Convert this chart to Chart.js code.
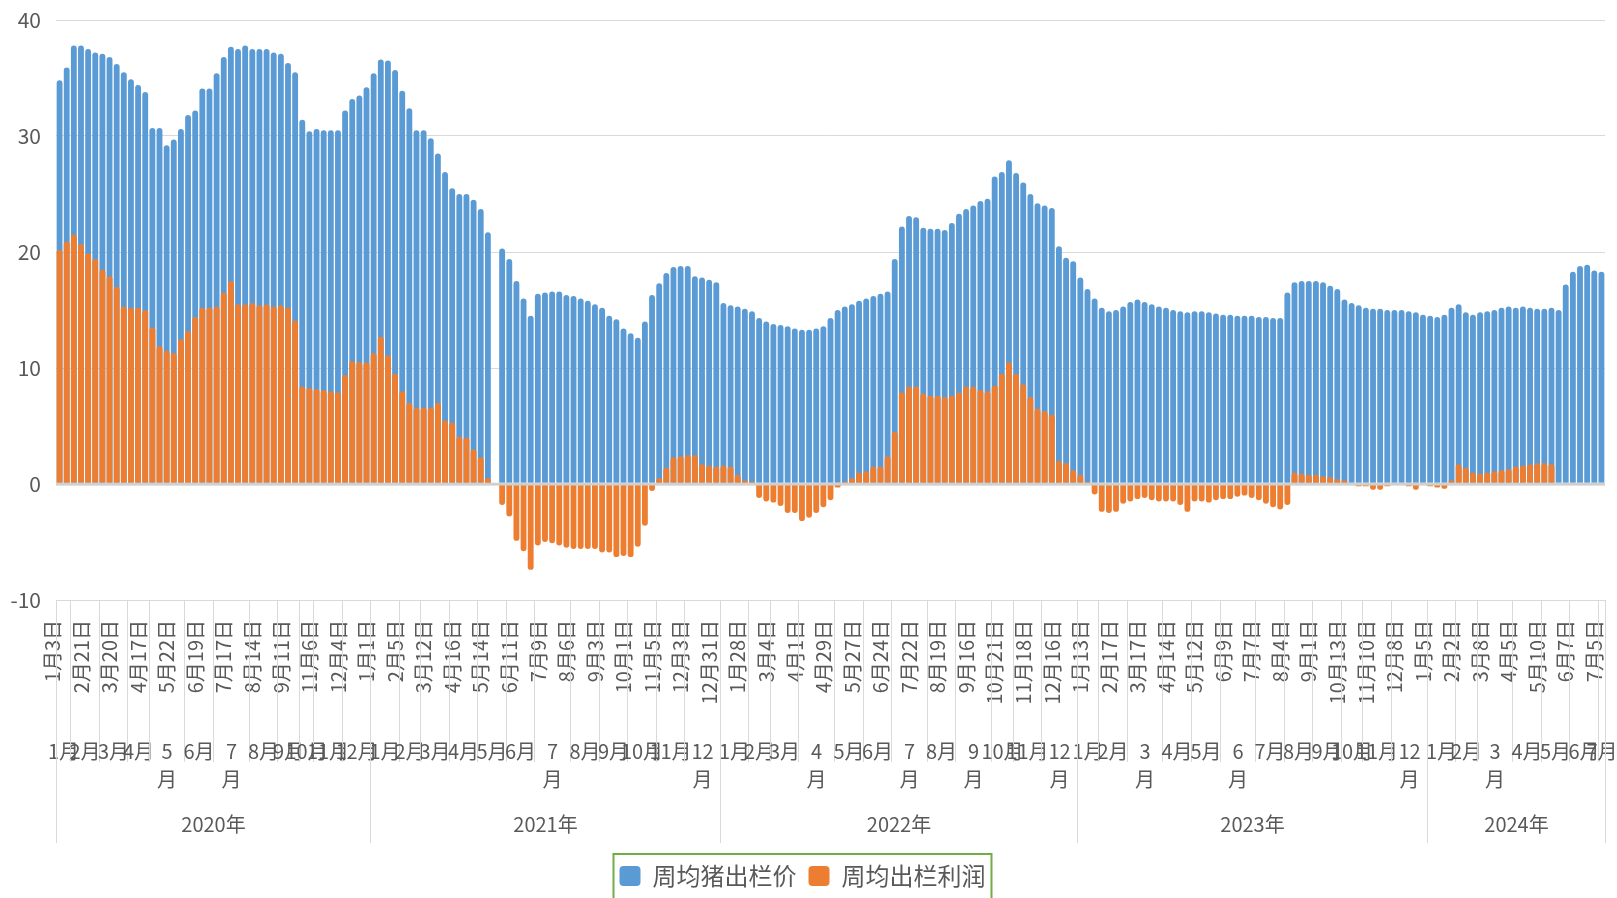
<!DOCTYPE html>
<html>
<head>
<meta charset="utf-8">
<script src="https://cdn.jsdelivr.net/npm/chart.js@4"></script>
<style>
  html, body { margin: 0; background: #fff; }
  #wrap { width: 1617px; height: 898px; }
</style>
</head>
<body>
<div id="wrap"><canvas id="c"></canvas></div>
<script>
// 每周日期（按年）
var weeks2020 = ['1月3日','1月10日','2月7日','2月14日','2月21日','2月28日','3月6日','3月13日','3月20日','3月27日',
  '4月3日','4月10日','4月17日','5月1日','5月8日','5月15日','5月22日','5月29日','6月5日','6月12日','6月19日','6月26日',
  '7月3日','7月10日','7月17日','7月24日','7月31日','8月7日','8月14日','8月21日','8月28日','9月4日','9月11日','9月18日',
  '10月23日','10月30日','11月6日','11月13日','11月20日','11月27日','12月4日','12月11日','12月18日','12月25日'];
var weeks2021 = ['1月1日','1月8日','1月15日','1月22日','2月5日','2月19日','2月26日','3月5日','3月12日','3月19日','3月26日',
  '4月9日','4月16日','4月23日','4月30日','5月7日','5月14日','5月21日','5月28日','6月4日','6月11日','6月18日','6月25日',
  '7月2日','7月9日','7月16日','7月23日','7月30日','8月6日','8月13日','8月20日','8月27日','9月3日','9月10日','9月17日','9月24日',
  '10月1日','10月15日','10月22日','10月29日','11月5日','11月12日','11月19日','11月26日','12月3日','12月10日','12月17日','12月24日','12月31日'];
var weeks2022 = ['1月7日','1月14日','1月21日','1月28日','2月11日','2月18日','2月25日','3月4日','3月11日','3月18日','3月25日',
  '4月1日','4月8日','4月15日','4月22日','4月29日','5月6日','5月13日','5月20日','5月27日','6月3日','6月10日','6月17日','6月24日',
  '7月1日','7月8日','7月15日','7月22日','7月29日','8月5日','8月12日','8月19日','8月26日','9月2日','9月9日','9月16日','9月23日','9月30日',
  '10月14日','10月21日','10月28日','11月4日','11月11日','11月18日','11月25日','12月2日','12月9日','12月16日','12月23日','12月30日'];
var weeks2023 = ['1月6日','1月13日','1月20日','2月3日','2月10日','2月17日','2月24日','3月3日','3月10日','3月17日','3月24日','3月31日',
  '4月7日','4月14日','4月21日','4月28日','5月5日','5月12日','5月19日','5月26日','6月2日','6月9日','6月16日','6月23日','6月30日',
  '7月7日','7月14日','7月21日','7月28日','8月4日','8月11日','8月18日','8月25日','9月1日','9月8日','9月15日','9月22日',
  '10月13日','10月20日','10月27日','11月3日','11月10日','11月17日','11月24日','12月1日','12月8日','12月15日','12月22日','12月29日'];
var weeks2024 = ['1月5日','1月12日','1月19日','1月26日','2月2日','2月16日','2月23日','3月1日','3月8日','3月15日','3月22日','3月29日',
  '4月5日','4月12日','4月19日','4月26日','5月10日','5月17日','5月24日','5月31日','6月7日','6月14日','6月21日','6月28日','7月5日'];
var yearNames = ['2020年', '2021年', '2022年', '2023年', '2024年'];

// 周均猪出栏价
var price2020 = [34.8, 35.9, 37.8, 37.8, 37.5, 37.2, 37.1, 36.8, 36.2, 35.5, 34.9, 34.4, 33.8, 30.7, 30.7, 29.2, 29.7, 30.6, 31.8, 32.2,
  34.1, 34.1, 35.4, 36.8, 37.7, 37.5, 37.8, 37.5, 37.5, 37.5, 37.2, 37.1, 36.3, 35.5, 31.4, 30.4, 30.6, 30.5, 30.5, 30.5, 32.2, 33.2, 33.5, 34.2];
var price2021 = [35.4, 36.6, 36.5, 35.7, 33.9, 32.4, 30.5, 30.5, 29.8, 28.5, 26.9, 25.5, 25.0, 25.0, 24.5, 23.7, 21.7, null,
  20.3, 19.4, 17.5, 16.0, 14.5, 16.4, 16.5, 16.6, 16.6, 16.3, 16.2, 16.0, 15.8, 15.5, 15.2, 14.5, 14.2, 13.4, 13.0, 12.6,
  14.0, 16.3, 17.3, 18.2, 18.7, 18.8, 18.8, 17.9, 17.8, 17.6, 17.4];
var price2022 = [15.6, 15.4, 15.3, 15.1, 14.9, 14.3, 14.0, 13.8, 13.7, 13.6, 13.4, 13.3, 13.3, 13.4, 13.6, 14.3, 15.0, 15.3, 15.5, 15.8,
  16.0, 16.2, 16.4, 16.6, 19.4, 22.2, 23.1, 23.0, 22.1, 22.0, 22.0, 21.9, 22.5, 23.3, 23.7, 24.0, 24.4, 24.6, 26.5, 26.9,
  27.9, 26.8, 26.0, 25.0, 24.2, 24.0, 23.8, 20.5, 19.5, 19.2];
var price2023 = [17.8, 16.8, 16.0, 15.2, 14.9, 15.0, 15.3, 15.7, 15.9, 15.7, 15.5, 15.3, 15.2, 15.0, 14.9, 14.8, 14.9, 14.9, 14.8, 14.7,
  14.6, 14.6, 14.5, 14.5, 14.5, 14.4, 14.4, 14.3, 14.3, 16.5, 17.4, 17.5, 17.5, 17.5, 17.4, 17.1, 16.8, 15.9, 15.6, 15.4,
  15.2, 15.1, 15.1, 15.0, 15.0, 15.0, 14.9, 14.8, 14.6];
var price2024 = [14.5, 14.4, 14.6, 15.2, 15.5, 14.8, 14.6, 14.8, 14.9, 15.0, 15.2, 15.3, 15.2, 15.3, 15.2, 15.1, 15.1, 15.2, 15.0,
  17.2, 18.3, 18.8, 18.9, 18.4, 18.3];

// 周均出栏利润
var profit2020 = [20.2, 20.9, 21.5, 20.7, 19.9, 19.4, 18.5, 17.9, 17.0, 15.3, 15.2, 15.2, 15.0, 13.5, 11.9, 11.5, 11.3, 12.5, 13.2, 14.4,
  15.2, 15.2, 15.3, 16.5, 17.5, 15.5, 15.5, 15.6, 15.4, 15.5, 15.3, 15.4, 15.2, 14.1, 8.4, 8.3, 8.2, 8.1, 8.0, 7.9, 9.4, 10.6, 10.5, 10.5];
var profit2021 = [11.3, 12.7, 11.1, 9.5, 8.0, 7.0, 6.6, 6.6, 6.6, 7.0, 5.5, 5.3, 4.1, 4.0, 3.0, 2.3, 0.5, null,
  -1.8, -2.8, -4.9, -5.8, -7.4, -5.3, -5.0, -5.1, -5.3, -5.5, -5.6, -5.6, -5.6, -5.6, -5.9, -5.9, -6.3, -6.2, -6.3, -5.4,
  -3.6, -0.6, 0.5, 1.4, 2.3, 2.4, 2.5, 2.5, 1.7, 1.6, 1.5];
var profit2022 = [1.6, 1.5, 0.8, 0.3, 0.2, -1.2, -1.5, -1.6, -1.9, -2.5, -2.5, -3.2, -2.9, -2.5, -2.0, -1.4, -0.3, 0.2, 0.5, 1.0,
  1.1, 1.5, 1.5, 2.4, 4.5, 7.9, 8.4, 8.4, 7.8, 7.6, 7.6, 7.5, 7.6, 7.9, 8.4, 8.4, 8.1, 8.0, 8.5, 9.5,
  10.5, 9.5, 8.6, 7.5, 6.5, 6.3, 6.0, 2.0, 1.8, 1.2];
var profit2023 = [0.8, 0.2, -0.9, -2.4, -2.5, -2.4, -1.7, -1.5, -1.3, -1.2, -1.4, -1.5, -1.5, -1.5, -1.8, -2.4, -1.5, -1.5, -1.6, -1.4,
  -1.3, -1.3, -1.1, -1.0, -1.2, -1.4, -1.7, -2.0, -2.2, -1.8, 1.0, 0.9, 0.8, 0.8, 0.7, 0.6, 0.4, 0.3, 0.1, -0.2,
  -0.2, -0.5, -0.5, -0.2, -0.1, -0.1, -0.2, -0.5, -0.1];
var profit2024 = [-0.2, -0.3, -0.4, 0.3, 1.7, 1.4, 1.0, 0.9, 1.0, 1.1, 1.2, 1.3, 1.5, 1.6, 1.7, 1.8, 1.8, 1.7,
  null, null, null, null, null, null, null];

var yTicks = [-10, 0, 10, 20, 30, 40];

var FONT = '"Noto Sans CJK SC", "Noto Sans", sans-serif';
var TEXT = '#595959';
var GRID = '#d9d9d9';

var weekGroups = [weeks2020, weeks2021, weeks2022, weeks2023, weeks2024];
var weeks = [].concat.apply([], weekGroups);
var yearOfWeek = [];
weekGroups.forEach(function (g, y) { g.forEach(function () { yearOfWeek.push(y); }); });
var price = [].concat(price2020, price2021, price2022, price2023, price2024);
var profit = [].concat(profit2020, profit2021, profit2022, profit2023, profit2024);

function monthOf(i) { return weeks[i].split('月')[0]; }

// 零线画在柱子上面
var zeroLine = {
  id: 'zeroLine',
  afterDatasetsDraw: function (chart) {
    var ctx = chart.ctx, area = chart.chartArea;
    var y0 = chart.scales.y.getPixelForValue(0);
    ctx.save();
    ctx.strokeStyle = '#d0d0d0';
    ctx.lineWidth = 2.5;
    ctx.beginPath();
    ctx.moveTo(area.left, y0);
    ctx.lineTo(area.right, y0);
    ctx.stroke();
    ctx.restore();
  }
};

// 多级分类轴：月份行和年份行
var axisGroups = {
  id: 'axisGroups',
  afterDraw: function (chart) {
    var ctx = chart.ctx;
    var x = chart.scales.x;
    var top = chart.chartArea.bottom;
    var half = (x.getPixelForValue(1) - x.getPixelForValue(0)) / 2;
    var n = weeks.length;
    function edge(i) { return Math.round(x.getPixelForValue(i) - half) + 0.5; }
    function line(px, bottom) {
      ctx.beginPath(); ctx.moveTo(px, top); ctx.lineTo(px, bottom); ctx.stroke();
    }
    ctx.save();
    ctx.strokeStyle = GRID;
    ctx.lineWidth = 1;
    ctx.fillStyle = TEXT;
    ctx.font = '20px ' + FONT;
    ctx.textAlign = 'center';
    ctx.textBaseline = 'middle';

    var s = 0, i;
    for (i = 1; i <= n; i++) {
      if (i < n && monthOf(i) === monthOf(s) && yearOfWeek[i] === yearOfWeek[s]) continue;
      var a = edge(s), b = edge(i), mid = (a + b) / 2, m = monthOf(s);
      line(a, 762);
      if (i - s >= 5) {
        ctx.fillText(m, mid, 751);
        ctx.fillText('月', mid, 779);
      } else {
        ctx.fillText(m + '月', mid, 751);
      }
      s = i;
    }

    s = 0;
    for (i = 1; i <= n; i++) {
      if (i < n && yearOfWeek[i] === yearOfWeek[s]) continue;
      line(edge(s), 843);
      ctx.fillText(yearNames[yearOfWeek[s]], (edge(s) + edge(i)) / 2, 824);
      s = i;
    }
    line(edge(n), 843);
    ctx.restore();
  }
};

// 图例外框
var legendFrame = {
  id: 'legendFrame',
  afterDraw: function (chart) {
    var lg = chart.legend;
    var boxes = lg.legendHitBoxes;
    if (!boxes || !boxes.length) return;
    var l = Math.min.apply(null, boxes.map(function (b) { return b.left; }));
    var r = Math.max.apply(null, boxes.map(function (b) { return b.left + b.width; }));
    var ctx = chart.ctx;
    ctx.save();
    ctx.strokeStyle = '#70ad47';
    ctx.lineWidth = 2;
    ctx.strokeRect(l - 6, lg.top + 2, r - l + 12, 80);
    ctx.restore();
  }
};

new Chart(document.getElementById('c'), {
  type: 'bar',
  data: {
    labels: weeks,
    datasets: [
      { label: '周均猪出栏价', data: price, backgroundColor: '#5b9bd5', order: 1 },
      { label: '周均出栏利润', data: profit, backgroundColor: '#ed7d31', order: 0 }
    ]
  },
  options: {
    responsive: true,
    maintainAspectRatio: false,
    animation: false,
    layout: { autoPadding: false, padding: { top: 20, right: 12, left: 0, bottom: 0 } },
    datasets: {
      bar: { grouped: false, categoryPercentage: 1, barPercentage: 0.82, borderRadius: 3, borderWidth: 0 }
    },
    scales: {
      x: {
        grid: { display: false, drawTicks: false },
        border: { display: false },
        ticks: {
          autoSkip: false, maxRotation: 90, minRotation: 90, padding: 20, labelOffset: -7,
          color: TEXT, font: { size: 20, family: FONT },
          callback: function (v, i) { return i % 4 === 0 ? weeks[i] : ''; }
        },
        afterFit: function (s) {
          s.height = 252;
          s.paddingLeft = 0;
          s.paddingRight = 0;
        }
      },
      y: {
        min: yTicks[0],
        max: yTicks[yTicks.length - 1],
        ticks: { stepSize: yTicks[1] - yTicks[0], padding: 15, color: TEXT, font: { size: 21, family: FONT } },
        grid: {
          drawTicks: false,
          color: function (c) { return c.tick.value === 0 ? '#d0d0d0' : GRID; },
          lineWidth: function (c) { return c.tick.value === 0 ? 2.5 : 1; }
        },
        border: { display: false },
        afterFit: function (s) {
          s.width = 56;
          s.paddingTop = 0;
          s.paddingBottom = 0;
        }
      }
    },
    plugins: {
      legend: {
        position: 'bottom',
        labels: {
          color: TEXT, font: { size: 24, family: FONT },
          boxWidth: 21, boxHeight: 20, padding: 12,
          useBorderRadius: true, borderRadius: 4,
          sort: function (a, b) { return a.datasetIndex - b.datasetIndex; }
        }
      },
      tooltip: { enabled: false }
    }
  },
  plugins: [zeroLine, axisGroups, legendFrame]
});
</script>
</body>
</html>
